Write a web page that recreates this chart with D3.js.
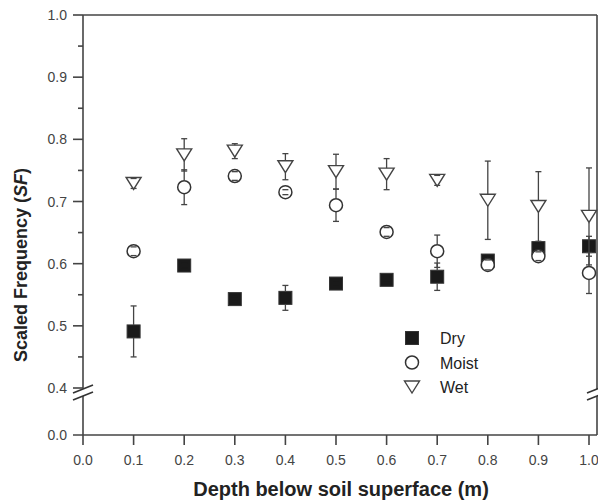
<!DOCTYPE html>
<html>
<head>
<meta charset="utf-8">
<script src="https://cdn.jsdelivr.net/npm/d3@7"></script>
<style>
	body { margin: 0; background: #fff; }
	text { font-family: Arial, "Liberation Sans", sans-serif; }
</style>
</head>
<body>
<div id="chart"></div>
<script>
//depths (m)
var depths = [0.1, 0.2, 0.3, 0.4, 0.5, 0.6, 0.7, 0.8, 0.9, 1.0];
//scaled frequency per soil condition, with error (half range)
var dryValues   = [0.491, 0.597, 0.543, 0.545, 0.568, 0.574, 0.579, 0.605, 0.625, 0.628];
var dryErr      = [0.041, 0.004, 0.004, 0.020, 0.004, 0.004, 0.022, 0.008, 0.008, 0.016];
var moistValues = [0.620, 0.723, 0.741, 0.715, 0.694, 0.651, 0.620, 0.598, 0.612, 0.585];
var moistErr    = [0.007, 0.028, 0.007, 0.004, 0.026, 0.007, 0.026, 0.008, 0.007, 0.033];
var wetValues   = [0.729, 0.775, 0.781, 0.756, 0.748, 0.744, 0.734, 0.702, 0.692, 0.676];
var wetErr      = [0.008, 0.026, 0.012, 0.021, 0.028, 0.025, 0.008, 0.063, 0.056, 0.078];
var seriesNames = ["Dry", "Moist", "Wet"];
var xTicks = [0.0, 0.1, 0.2, 0.3, 0.4, 0.5, 0.6, 0.7, 0.8, 0.9, 1.0];
var yTicksUpper = [0.4, 0.5, 0.6, 0.7, 0.8, 0.9, 1.0];
var yTicksLower = [0.0];

var width = 598, height = 502;
var plotLeft = 83, plotRight = 597, plotTop = 15, plotBottom = 435;
var breakY = 392;
var axisColor = "#444";

var svg = d3.select("#chart").append("svg")
	.attr("width", width)
	.attr("height", height);

//Scales
var x = d3.scaleLinear().domain([0, 1]).range([plotLeft, 589]);
var y = d3.scaleLinear().domain([0.4, 1.0]).range([388, plotTop]);
var yLow = d3.scaleLinear().domain([0, 0.06]).range([plotBottom, 396]);

//frame: top and right
svg.append("line")
	.attr("x1", plotLeft).attr("x2", plotRight)
	.attr("y1", plotTop).attr("y2", plotTop)
	.style("stroke", axisColor).style("stroke-width", 1.6);
svg.append("line")
	.attr("x1", plotRight).attr("x2", plotRight)
	.attr("y1", plotTop).attr("y2", breakY - 3)
	.style("stroke", axisColor).style("stroke-width", 1.6);
svg.append("line")
	.attr("x1", plotRight).attr("x2", plotRight)
	.attr("y1", breakY + 4).attr("y2", plotBottom)
	.style("stroke", axisColor).style("stroke-width", 1.6);

//left axis in two parts
svg.append("line")
	.attr("x1", plotLeft).attr("x2", plotLeft)
	.attr("y1", plotTop).attr("y2", breakY - 3)
	.style("stroke", axisColor).style("stroke-width", 1.6);
svg.append("line")
	.attr("x1", plotLeft).attr("x2", plotLeft)
	.attr("y1", breakY + 4).attr("y2", plotBottom)
	.style("stroke", axisColor).style("stroke-width", 1.6);

//bottom axis
svg.append("line")
	.attr("x1", plotLeft - 10).attr("x2", plotRight)
	.attr("y1", plotBottom).attr("y2", plotBottom)
	.style("stroke", axisColor).style("stroke-width", 1.6);

//break marks on both sides
[plotLeft, plotRight].forEach(function(bx){
	[-3, 4].forEach(function(off){
		svg.append("line")
			.attr("x1", bx - 10).attr("y1", breakY + off + 4)
			.attr("x2", bx + 10).attr("y2", breakY + off - 4)
			.style("stroke", "#333").style("stroke-width", 1.6);
	});
});

//y ticks upper
var yMinor = d3.range(0.45, 1.0, 0.1);
svg.selectAll(".yMajor")
	.data(yTicksUpper)
	.enter().append("line")
	.attr("class", "yMajor")
	.attr("x1", plotLeft - 10).attr("x2", plotLeft)
	.attr("y1", function(d){ return y(d); })
	.attr("y2", function(d){ return y(d); })
	.style("stroke", axisColor).style("stroke-width", 1.6);
svg.selectAll(".yMinor")
	.data(yMinor)
	.enter().append("line")
	.attr("class", "yMinor")
	.attr("x1", plotLeft - 5).attr("x2", plotLeft)
	.attr("y1", function(d){ return y(d); })
	.attr("y2", function(d){ return y(d); })
	.style("stroke", axisColor).style("stroke-width", 1.6);
svg.selectAll(".yLabel")
	.data(yTicksUpper)
	.enter().append("text")
	.attr("class", "yLabel")
	.attr("x", plotLeft - 16)
	.attr("y", function(d){ return y(d) + 5; })
	.style("text-anchor", "end")
	.style("font-size", "14px")
	.style("fill", "#444")
	.text(function(d){ return d.toFixed(1); });

//lower y tick
svg.selectAll(".yLowLabel")
	.data(yTicksLower)
	.enter().append("text")
	.attr("class", "yLowLabel")
	.attr("x", plotLeft - 16)
	.attr("y", function(d){ return yLow(d) + 5; })
	.style("text-anchor", "end")
	.style("font-size", "14px")
	.style("fill", "#444")
	.text(function(d){ return d.toFixed(1); });

//x ticks
svg.selectAll(".xTick")
	.data(xTicks)
	.enter().append("line")
	.attr("class", "xTick")
	.attr("x1", function(d){ return x(d); })
	.attr("x2", function(d){ return x(d); })
	.attr("y1", plotBottom).attr("y2", plotBottom + 10)
	.style("stroke", axisColor).style("stroke-width", 1.6);
svg.selectAll(".xLabel")
	.data(xTicks)
	.enter().append("text")
	.attr("class", "xLabel")
	.attr("x", function(d){ return x(d); })
	.attr("y", plotBottom + 30)
	.style("text-anchor", "middle")
	.style("font-size", "14px")
	.style("fill", "#444")
	.text(function(d){ return d.toFixed(1); });

//axis titles
svg.append("text")
	.attr("x", 341)
	.attr("y", 496)
	.style("text-anchor", "middle")
	.style("font-size", "20px")
	.style("font-weight", "bold")
	.style("fill", "#222")
	.text("Depth below soil superface (m)");

var yTitle = svg.append("text")
	.attr("transform", "translate(27,362) rotate(-90)")
	.style("text-anchor", "start")
	.style("font-size", "18px")
	.style("font-weight", "bold")
	.style("fill", "#222");
yTitle.append("tspan").text("Scaled Frequency (");
yTitle.append("tspan").style("font-style", "italic").text("SF");
yTitle.append("tspan").text(")");

//marker shapes
function drawMarker(g, shape, cx, cy){
	if(shape == "square"){
		g.append("rect")
			.attr("x", cx - 6.5).attr("y", cy - 6.5)
			.attr("width", 13).attr("height", 13)
			.style("fill", "#1a1a1a").style("stroke", "#333").style("stroke-width", 1);
	}else if(shape == "circle"){
		g.append("circle")
			.attr("cx", cx).attr("cy", cy).attr("r", 6.5)
			.style("fill", "#fff").style("stroke", "#333").style("stroke-width", 1.5);
	}else{
		g.append("path")
			.attr("d", "M" + (cx - 7.5) + "," + (cy - 6) + "L" + (cx + 7.5) + "," + (cy - 6) + "L" + cx + "," + (cy + 6) + "Z")
			.style("fill", "#fff").style("stroke", "#444").style("stroke-width", 1.4);
	}
}

var series = [
	{name: seriesNames[0], shape: "square", values: dryValues, err: dryErr, half: 6.5, inner: "#1a1a1a"},
	{name: seriesNames[1], shape: "circle", values: moistValues, err: moistErr, half: 6.5, inner: "#444"},
	{name: seriesNames[2], shape: "triangle", values: wetValues, err: wetErr, half: 6, inner: "#444"}
];

series.forEach(function(s){
	var g = svg.append("g").attr("class", "series " + s.name);
	depths.forEach(function(dep, i){
		var cx = x(dep), cy = y(s.values[i]);
		drawMarker(g, s.shape, cx, cy);
		var yt = y(s.values[i] + s.err[i]), yb = y(s.values[i] - s.err[i]);
		//stem only outside the marker
		if(yt < cy - s.half){
			g.append("line").attr("x1", cx).attr("x2", cx)
				.attr("y1", yt).attr("y2", cy - s.half)
				.style("stroke", "#444").style("stroke-width", 1.3);
		}
		if(yb > cy + s.half){
			g.append("line").attr("x1", cx).attr("x2", cx)
				.attr("y1", cy + s.half).attr("y2", yb)
				.style("stroke", "#444").style("stroke-width", 1.3);
		}
		[yt, yb].forEach(function(yc){
			var inside = Math.abs(yc - cy) < s.half;
			g.append("line").attr("x1", cx - 3).attr("x2", cx + 3)
				.attr("y1", yc).attr("y2", yc)
				.style("stroke", inside ? s.inner : "#444").style("stroke-width", 1.3);
		});
	});
});

//legend
var legend = svg.append("g").attr("class", "legend");
series.forEach(function(s, i){
	var ly = 338 + i * 24.5;
	drawMarker(legend, s.shape, 412, ly);
	legend.append("text")
		.attr("x", 440)
		.attr("y", ly + 6)
		.style("font-size", "16px")
		.style("fill", "#222")
		.text(s.name);
});
</script>
</body>
</html>
